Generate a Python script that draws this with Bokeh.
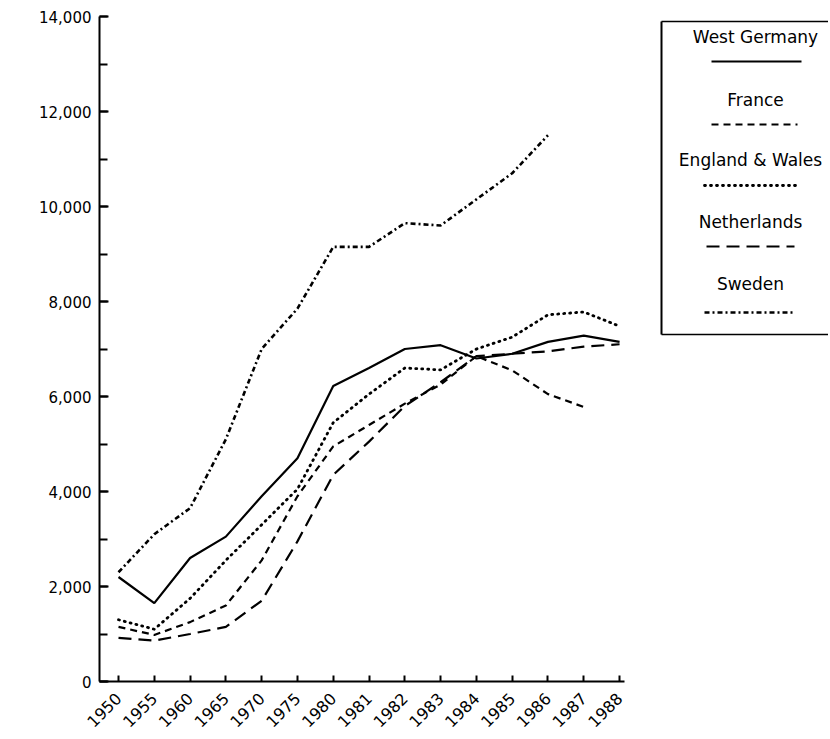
import math
from bokeh.plotting import figure
from bokeh.models import Range1d, FixedTicker, SingleIntervalTicker, NumeralTickFormatter
from bokeh.core.properties import value
from bokeh.embed import file_html
from bokeh.resources import INLINE

years = ["1950", "1955", "1960", "1965", "1970", "1975", "1980", "1981",
         "1982", "1983", "1984", "1985", "1986", "1987", "1988"]
west_germany = [2200, 1650, 2600, 3050, 3900, 4700, 6220, 6600, 7000, 7080, 6800, 6900, 7150, 7280, 7150]
france = [1150, 980, 1250, 1600, 2550, 3900, 4950, 5400, 5850, 6250, 6850, 6550, 6050, 5780]
england_wales = [1300, 1100, 1750, 2550, 3300, 4050, 5450, 6050, 6600, 6560, 7000, 7250, 7720, 7780, 7480]
netherlands = [920, 860, 1000, 1150, 1700, 2950, 4350, 5050, 5800, 6300, 6850, 6900, 6950, 7050, 7100]
sweden = [2300, 3100, 3650, 5100, 7000, 7850, 9150, 9150, 9650, 9600, 10150, 10700, 11500]

series_names = ["West Germany", "France", "England & Wales", "Netherlands", "Sweden"]
series_vals = [west_germany, france, england_wales, netherlands, sweden]
dashes = ["solid", "7 5", "1 5", "13 7", "5 3 2 3"]
caps = ["butt", "butt", "round", "butt", "butt"]
widths = [2.2, 2.2, 2.8, 2.2, 2.6]

FONT = "DejaVu Sans"

W, H = 828, 737
BL, BR, BT, BB = 99, 0, 16, 56
FW, FH = W - BL - BR, H - BT - BB
x0 = -0.531
ppu = 35.79

p = figure(width=W, height=H, output_backend="svg", toolbar_location=None,
           x_range=Range1d(x0, x0 + FW / ppu), y_range=Range1d(0, 14000),
           min_border_left=BL, min_border_right=BR, min_border_top=BT, min_border_bottom=BB)
p.outline_line_color = None
p.xgrid.visible = False
p.ygrid.visible = False
p.extra_x_ranges = {"lx": Range1d(0, FW)}
p.extra_y_ranges = {"ly": Range1d(FH, 0)}

for vals, dash, cap, lw in zip(series_vals, dashes, caps, widths):
    xs = list(range(len(vals)))
    p.line(xs, vals, line_color="black", line_width=lw, line_dash=dash, line_cap=cap)

# y axis
p.yaxis.ticker = SingleIntervalTicker(interval=2000, num_minor_ticks=2)
p.yaxis.formatter = NumeralTickFormatter(format="0,0")
p.yaxis.major_label_text_font = FONT
p.yaxis.major_label_text_font_size = "15px"
p.yaxis.major_label_text_color = "black"
p.yaxis.major_tick_in = 9
p.yaxis.major_tick_out = 0
p.yaxis.minor_tick_in = 8
p.yaxis.minor_tick_out = 0
p.yaxis.axis_line_width = 2
p.yaxis.major_tick_line_width = 2
p.yaxis.minor_tick_line_width = 2
p.yaxis.major_label_standoff = 8

# x axis
p.xaxis.ticker = FixedTicker(ticks=list(range(len(years))))
p.xaxis.bounds = (x0, 14.15)
p.xaxis.major_label_overrides = {i: y for i, y in enumerate(years)}
p.xaxis.major_label_orientation = math.pi / 4
p.xaxis.major_label_text_font = FONT
p.xaxis.major_label_text_font_size = "16px"
p.xaxis.major_label_text_color = "black"
p.xaxis.major_tick_in = 6
p.xaxis.major_tick_out = 0
p.xaxis.minor_tick_in = 0
p.xaxis.minor_tick_out = 0
p.xaxis.axis_line_width = 2
p.xaxis.major_tick_line_width = 2
p.xaxis.major_label_standoff = 14

# legend box (drawn in frame pixel coordinates via extra ranges)
kw = dict(x_range_name="lx", y_range_name="ly")
box_l, box_t, box_b = 562, 5, 318
p.line([box_l, box_l], [box_t, box_b], line_color="black", line_width=2, **kw)
p.line([box_l, FW], [box_t, box_t], line_color="black", line_width=1.5, **kw)
p.line([box_l, FW], [box_b, box_b], line_color="black", line_width=1.5, **kw)

text_x = [656, 656, 651, 651, 651]
text_y = [20, 83, 143, 205, 267]
line_y = [45, 108, 169, 230, 296]
line_x0 = [612, 612, 605, 607, 605]
line_x1 = [702, 698, 697, 695, 695]
p.text(x=text_x, y=text_y, text=series_names, text_align="center",
       text_baseline="middle", text_font=value(FONT), text_font_size="17px",
       text_color="black", **kw)
for i in range(5):
    p.line([line_x0[i], line_x1[i]], [line_y[i], line_y[i]], line_color="black",
           line_width=widths[i], line_dash=dashes[i], line_cap=caps[i], **kw)

open("out.html", "w").write(file_html(p, INLINE))
